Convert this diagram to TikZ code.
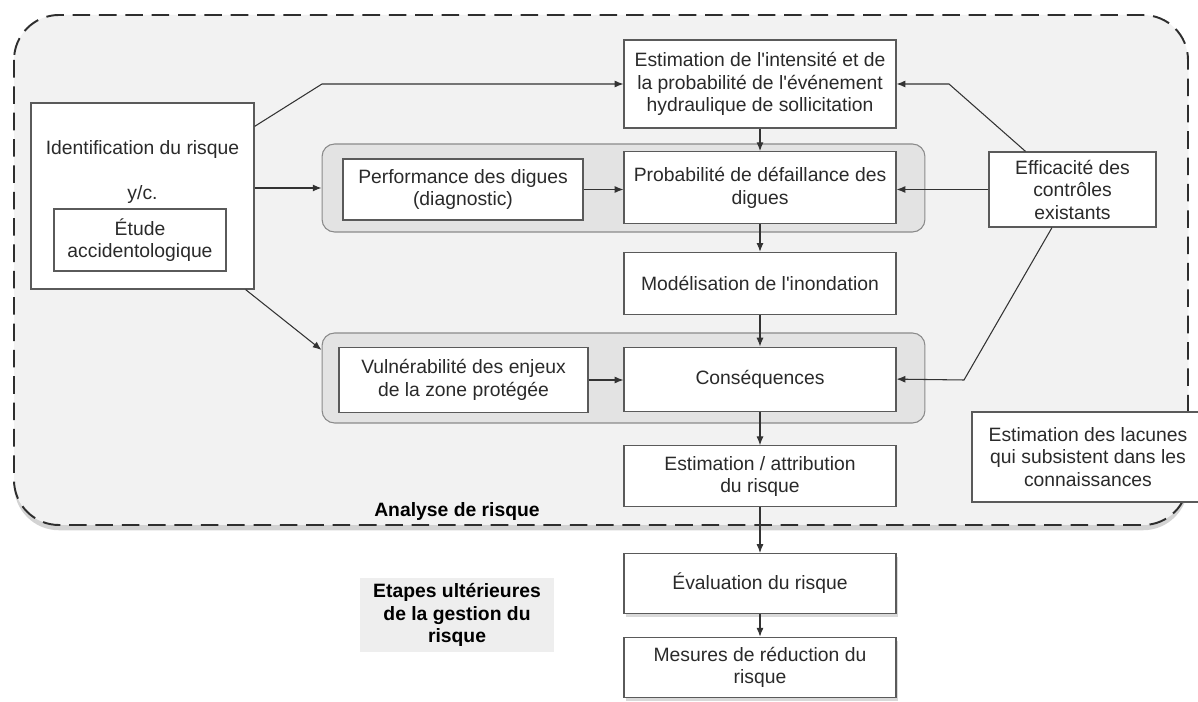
\documentclass[tikz,border=0pt]{standalone}
\usepackage{fontspec}
\setmainfont{Liberation Sans}
\usepackage{tikz}
\usetikzlibrary{positioning}
\usetikzlibrary{arrows.meta}
\usetikzlibrary{shadows}
\usepackage{xcolor}
\definecolor{regionfill}{HTML}{F2F2F2}
\definecolor{regionline}{HTML}{2E2E2E}
\definecolor{groupfill}{HTML}{E3E3E3}
\definecolor{groupline}{HTML}{8A8A8A}
\definecolor{boxline}{HTML}{5A5A5A}
\definecolor{arrowgray}{HTML}{333333}
\definecolor{textgray}{HTML}{2A2A2A}
\definecolor{etapesfill}{HTML}{EEEEEE}

\begin{document}
\begin{tikzpicture}[x=0.02cm, y=-0.02cm, font=\fontsize{11}{12.8}\selectfont,
    region/.style={draw=regionline, line width=1.1pt, dash pattern=on 10pt off 5pt, fill=regionfill, rounded corners=0.9cm, drop shadow={shadow xshift=0pt, shadow yshift=-3pt, opacity=0.35}},
    group/.style={draw=groupline, fill=groupfill, line width=0.6pt, rounded corners=0.25cm},
    box/.style={draw=boxline, fill=white, line width=0.7pt, align=center, inner sep=2pt, text=textgray},
    shbox/.style={box, drop shadow={shadow xshift=1pt, shadow yshift=-2pt, opacity=0.3}},
    col/.style={box, minimum width=5.44cm},
    arr/.style={-{Latex[length=5pt,width=4pt]}, draw=arrowgray, line width=0.6pt},
    title/.style={font=\fontsize{11}{12.8}\selectfont\bfseries, text=black, align=center}]
    \useasboundingbox (0,0) rectangle (1198,702);
    \draw[region] (14,15) rectangle (1188,525);
    \node[group, minimum width=12.06cm, minimum height=1.76cm] (grpA) at (623.5,188) {};
    \node[group, minimum width=12.06cm, minimum height=1.8cm] (grpB) at (623.5,378) {};
    \node[col, minimum height=1.76cm] (est) at (760,84) {Estimation de l\textquotesingle intensité et de\\la probabilité de l\textquotesingle événement\\hydraulique de sollicitation};
    \node[col, minimum height=1.44cm, below=0.45cm of est] (prob) {Probabilité de défaillance des\\digues};
    \node[col, minimum height=1.24cm, below=0.55cm of prob] (modl) {Modélisation de l\textquotesingle inondation};
    \node[col, minimum height=1.28cm, below=0.63cm of modl] (cons) {Conséquences};
    \node[col, minimum height=1.22cm, below=0.67cm of cons] (attr) {Estimation / attribution\\du risque};
    \node[col, shbox, minimum height=1.2cm, below=0.91cm of attr] (eval) {Évaluation du risque};
    \node[col, shbox, minimum height=1.2cm, below=0.45cm of eval] (mes) {Mesures de réduction du\\risque};
    \node[box, minimum width=4.8cm, minimum height=1.22cm] (perf) at (463,189.5) {Performance des digues\\(diagnostic)};
    \node[box, minimum width=4.98cm, minimum height=1.3cm] (vuln) at (463.5,380) {Vulnérabilité des enjeux\\de la zone protégée};
    \node[box, minimum width=4.46cm, minimum height=3.72cm] (ident) at (142.5,196) {};
    \node[text=textgray] (identtxt) at (142.5,150) {Identification du risque};
    \node[text=textgray] (yc) at (142.5,195) {y/c.};
    \node[box, minimum width=3.44cm, minimum height=1.24cm] (etude) at (140,240) {Étude\\accidentologique};
    \node[box, minimum width=3.34cm, minimum height=1.5cm] (effic) at (1072.5,189.5) {Efficacité des\\contrôles\\existants};
    \node[box, minimum width=4.64cm, minimum height=1.8cm] (lac) at (1088,457) {Estimation des lacunes\\qui subsistent dans les\\connaissances};
    \node[title, fill=etapesfill, minimum width=3.88cm, minimum height=1.4cm] (etapes) at (457,615) {Etapes ultérieures\\de la gestion du\\risque};
    \node[title] (analyse) at (457,512) {Analyse de risque};
    \draw[arr] (ident.north east) ++(0,24) -- (322,84) -- (est.west);
    \draw[arr] (ident.east |- grpA.west) -- (grpA.west);
    \draw[arr] ([xshift=-0.18cm]ident.south east) -- ([yshift=0.56cm]grpB.west);
    \draw[arr] (perf.east) -- (perf.east -| prob.west);
    \draw[arr] (vuln.east) -- (vuln.east -| cons.west);
    \draw[arr] (est.south) -- (prob.north);
    \draw[arr] (prob.south) -- (modl.north);
    \draw[arr] (modl.south) -- (cons.north);
    \draw[arr] (cons.south) -- (attr.north);
    \draw[arr] (attr.south) -- (eval.north);
    \draw[arr] (eval.south) -- (mes.north);
    \draw[arr] ([xshift=-0.94cm]effic.north) -- (949,84) -- (est.east);
    \draw[arr] (effic.west) -- (effic.west -| prob.east);
    \draw[arr] ([xshift=-0.41cm]effic.south) -- (964,380) -- (cons.east);
\end{tikzpicture}
\end{document}
